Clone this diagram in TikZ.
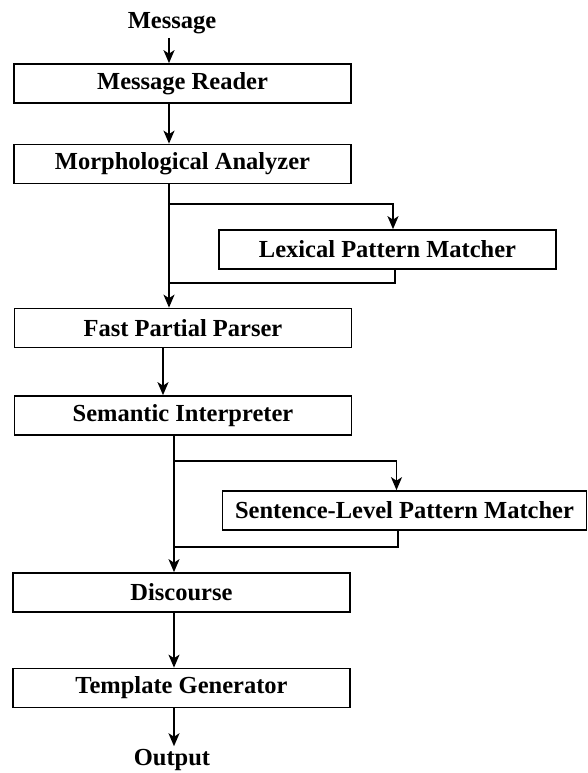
\documentclass[tikz,border=0pt]{standalone}
\usepackage{fontspec}
\setmainfont{Liberation Serif}
\usetikzlibrary{arrows.meta}

\begin{document}
\begin{tikzpicture}[x=1pt,y=-1pt,
		box/.style={draw,line width=1.7pt,inner sep=0pt,minimum height=39pt,minimum width=337pt},
		arr/.style={-{Stealth[length=13pt,width=11pt,inset=3.5pt]},line width=1.6pt},
		wire/.style={line width=1.6pt},
		every node/.style={font=\fontsize{24.5}{28}\selectfont\bfseries}]
	\useasboundingbox (0,0) rectangle (588,773);

	\node[anchor=base] (msg) at (172,29) {Message};
	\node[box] (reader) at (182.5,83.5) {Message Reader};
	\node[box] (morph)  at (182.5,164)  {Morphological Analyzer};
	\node[box] (lex)    at (387.5,249.5) {Lexical Pattern Matcher};
	\node[box] (parser) at (183,328)    {Fast Partial Parser};
	\node[box] (sem)    at (183,415.5)  {Semantic Interpreter};
	\node[box,minimum width=364pt] (sent) at (404.5,510.5) {Sentence-Level Pattern Matcher};
	\node[box] (disc)   at (181.5,592.5) {Discourse};
	\node[box] (templ)  at (181.5,688)  {Template Generator};
	\node[anchor=base] (out) at (172,765) {Output};

	% spine and branch points
	\coordinate (up) at (169,0);
	\coordinate (low) at (174,0);
	\coordinate (fork1) at (169,204);
	\coordinate (join1) at (169,283);
	\coordinate (fork2) at (174,461);
	\coordinate (join2) at (174,547);

	\draw[arr] (msg.south -| up) -- (reader.north -| up);
	\draw[arr] (reader.south -| up) -- (morph.north -| up);
	\draw[arr] (morph.south -| up) -- (parser.north -| up);
	\draw[arr] (fork1) -| ([xshift=5.5pt]lex.north);
	\draw[wire] ([xshift=7.5pt]lex.south) |- (join1);
	\draw[arr] ([xshift=-11pt]parser.south -| low) -- ([xshift=-11pt]sem.north -| low);
	\draw[arr] (sem.south -| low) -- (disc.north -| low);
	\draw[arr] (fork2) -| ([xshift=-8pt]sent.north);
	\draw[wire] ([xshift=-6.5pt]sent.south) |- (join2);
	\draw[arr] (disc.south -| low) -- (templ.north -| low);
	\draw[arr] (templ.south -| low) -- ([yshift=-1pt]out.north -| low);
\end{tikzpicture}
\end{document}
